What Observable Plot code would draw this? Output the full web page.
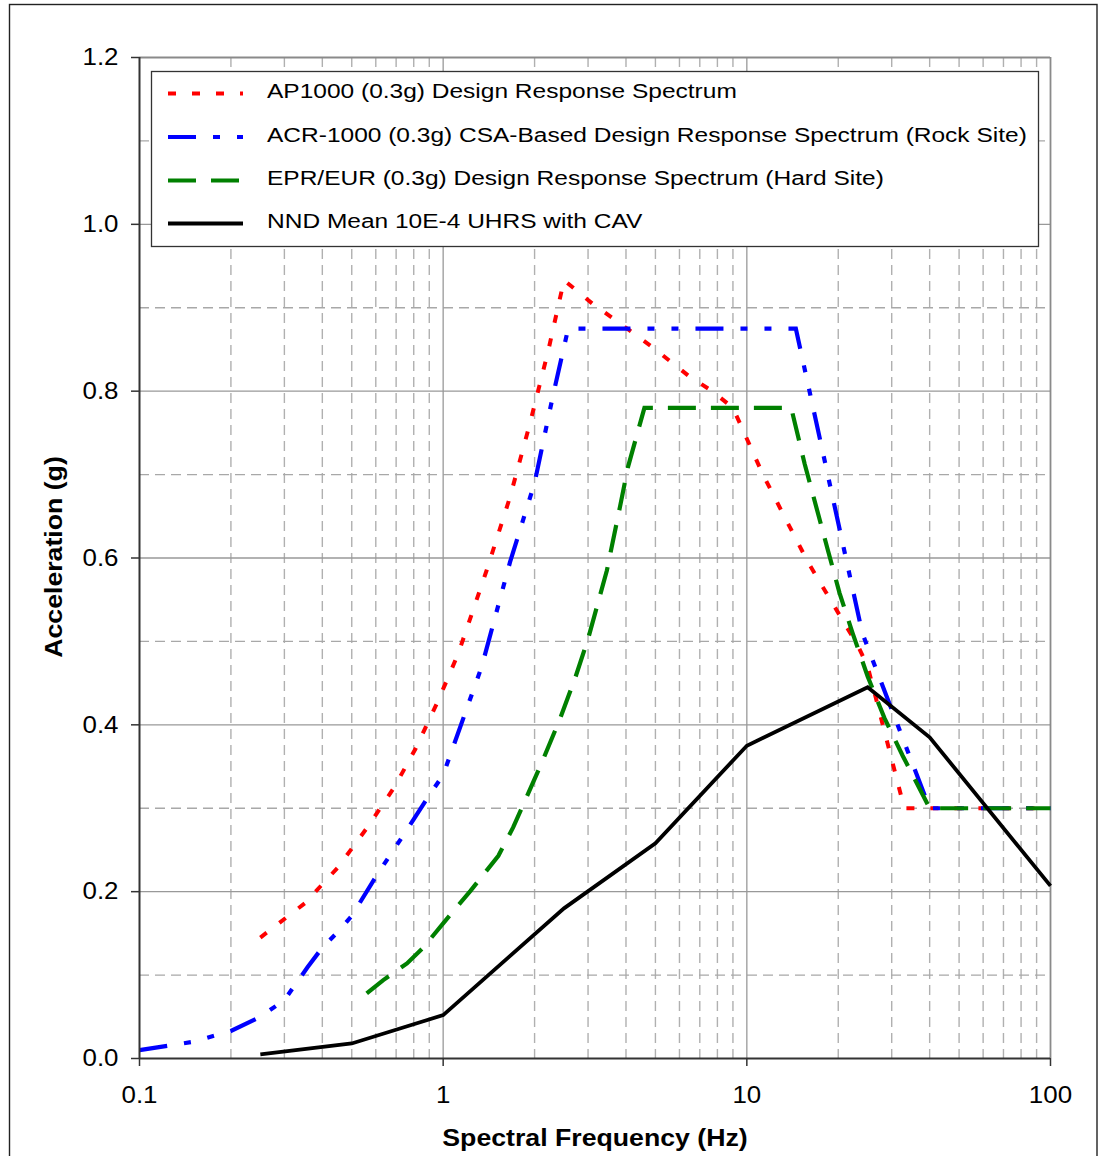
<!DOCTYPE html>
<html><head><meta charset="utf-8">
<script src="https://cdn.jsdelivr.net/npm/d3@7"></script>
<script src="https://cdn.jsdelivr.net/npm/@observablehq/plot@0.6"></script>
<style>
body{margin:0;background:#fff;}
#chart{width:1099px;height:1156px;overflow:hidden;}
svg text{font-family:"Liberation Sans",Arial,sans-serif;}
</style></head><body><div id="chart"></div>
<script>
// ---- data ----
const seriesNames = [
  "AP1000 (0.3g) Design Response Spectrum",
  "ACR-1000 (0.3g) CSA-Based Design Response Spectrum (Rock Site)",
  "EPR/EUR (0.3g) Design Response Spectrum (Hard Site)",
  "NND Mean 10E-4 UHRS with CAV"
];
const apFreq = [0.25,0.35,0.45,0.56,0.69,0.81,0.96,1.12,1.39,1.66,1.93,2.22,2.5,3.1,3.7,5.0,6.5,7.7,9.0,11.3,13.5,15.9,19.2,23.2,25,33,100];
const apAcc  = [0.145,0.186,0.229,0.276,0.325,0.371,0.428,0.485,0.585,0.673,0.761,0.849,0.933,0.905,0.885,0.85,0.817,0.80,0.78,0.70,0.645,0.595,0.545,0.495,0.47,0.30,0.30];
const acrFreq = [0.1,0.15,0.2,0.25,0.3,0.357,0.4,0.448,0.5,0.61,0.75,0.89,1.0,1.34,1.66,2.0,2.3,2.58,14.5,24,40,100];
const acrAcc  = [0.01,0.02,0.033,0.05,0.07,0.109,0.133,0.151,0.171,0.222,0.271,0.313,0.34,0.47,0.595,0.69,0.795,0.875,0.875,0.51,0.30,0.30];
const eurFreq = [0.56,0.635,0.76,0.86,1.0,1.23,1.52,1.7,1.86,2.12,2.43,2.72,3.0,3.46,3.82,4.06,4.6,14,15.5,18.5,20.2,22.3,25,28.4,32.6,40,100];
const eurAcc  = [0.078,0.094,0.114,0.133,0.162,0.201,0.243,0.277,0.309,0.356,0.408,0.456,0.503,0.585,0.661,0.709,0.78,0.78,0.713,0.609,0.558,0.51,0.458,0.408,0.363,0.30,0.30];
const nndFreq = [0.25,0.5,1,2.5,5,10,25,40,100];
const nndAcc  = [0.005,0.018,0.052,0.18,0.258,0.375,0.445,0.385,0.207];

const freqTicks = [0.1,1,10,100];
const freqTickLabels = ["0.1","1","10","100"];
const minorFreqs = [0.2,0.3,0.4,0.5,0.6,0.7,0.8,0.9,2,3,4,5,6,7,8,9,20,30,40,50,60,70,80,90];
const accTicks = [0,0.2,0.4,0.6,0.8,1.0,1.2];
const accTickLabels = ["0.0","0.2","0.4","0.6","0.8","1.0","1.2"];
const minorAcc = [0.1,0.3,0.5,0.7,0.9,1.1];
const xTitle = "Spectral Frequency (Hz)";
const yTitle = "Acceleration (g)";

// ---- styles ----
const styles = [
  {stroke:"#ff0000", strokeWidth:4, dash:"8,16"},
  {stroke:"#0000ff", strokeWidth:4.2, dash:"28,17,7,17,7,17"},
  {stroke:"#008000", strokeWidth:4.2, dash:"28,15"},
  {stroke:"#000000", strokeWidth:3.8, dash:null}
];
const toRows = (fs, as) => fs.map((f,i)=>({f, a: as[i]}));
const seriesRows = [toRows(apFreq,apAcc), toRows(acrFreq,acrAcc), toRows(eurFreq,eurAcc), toRows(nndFreq,nndAcc)];

const lineMarks = seriesRows.map((rows,i)=>Plot.line(rows,{
  x:"f", y:"a", stroke:styles[i].stroke, strokeWidth:styles[i].strokeWidth,
  strokeDasharray: styles[i].dash || undefined, strokeLinecap:"butt", strokeLinejoin:"miter", strokeMiterlimit:4
}));

const plot = Plot.plot({
  width:1099, height:1156,
  marginLeft:139, marginRight:49, marginTop:57, marginBottom:98,
  x:{type:"log", domain:[0.1,100]},
  y:{domain:[0,1.2]},
  style:{fontFamily:"Liberation Sans, Arial, sans-serif", fontSize:"24px", color:"#000", background:"#fff"},
  marks:[
    Plot.ruleX(minorFreqs,{stroke:"#b0b0b0", strokeWidth:1.4, strokeDasharray:"10,6"}),
    Plot.ruleY(minorAcc,{stroke:"#a8a8a8", strokeWidth:1.4, strokeDasharray:"10,6"}),
    Plot.ruleX([1,10],{stroke:"#a0a0a0", strokeWidth:1.4}),
    Plot.ruleY([0.2,0.4,0.6,0.8,1.0],{stroke:"#999999", strokeWidth:1.4}),
    Plot.ruleY([1.2],{stroke:"#8a8a8a", strokeWidth:1.8}),
    Plot.ruleX([100],{stroke:"#8a8a8a", strokeWidth:1.8}),
    ...lineMarks,
    Plot.ruleX([0.1],{stroke:"#333", strokeWidth:2}),
    Plot.ruleY([0],{stroke:"#333", strokeWidth:2}),
    Plot.axisX(freqTicks,{tickSize:8, tickPadding:19, tickFormat:d=>freqTickLabels[freqTicks.indexOf(d)], label:null, stroke:"#333", strokeWidth:1.5}),
    Plot.axisY(accTicks,{tickSize:8, tickPadding:13, tickFormat:d=>accTickLabels[accTicks.indexOf(d)], label:null, stroke:"#333", strokeWidth:1.5})
  ]
});
document.getElementById("chart").appendChild(plot);

const svg = d3.select(plot);
function stretch(sel, factor){
  sel.each(function(){
    const L = this.getComputedTextLength();
    this.setAttribute("textLength", (L*factor).toFixed(1));
    this.setAttribute("lengthAdjust","spacingAndGlyphs");
  });
}
stretch(svg.selectAll("g[aria-label='x-axis tick label'] text, g[aria-label='y-axis tick label'] text"), 1.08);

// outer frame
svg.append("rect").attr("x",9.5).attr("y",4.5).attr("width",1087.5).attr("height",1200)
  .attr("fill","none").attr("stroke","#222").attr("stroke-width",1.4);

// axis titles
const xt = svg.append("text").attr("x",595).attr("y",1146).attr("text-anchor","middle")
  .attr("font-weight","bold").attr("font-size",23).text(xTitle);
stretch(xt,1.16);
const yt = svg.append("text").attr("transform","translate(62,557) rotate(-90)").attr("text-anchor","middle")
  .attr("font-weight","bold").attr("font-size",23).text(yTitle);
stretch(yt,1.16);

// legend
const lg = svg.append("g").attr("text-anchor","start");
lg.append("rect").attr("x",151.5).attr("y",71.5).attr("width",887).attr("height",175)
  .attr("fill","#fff").attr("stroke","#333").attr("stroke-width",1.3);
const baselines = [98,141.5,185,228];
seriesNames.forEach((name,i)=>{
  const yl = baselines[i]-4.5;
  const ln = lg.append("line").attr("x1",168).attr("x2",243).attr("y1",yl).attr("y2",yl)
    .attr("stroke",styles[i].stroke).attr("stroke-width",styles[i].strokeWidth);
  if (styles[i].dash) ln.attr("stroke-dasharray",styles[i].dash);
  const t = lg.append("text").attr("x",267).attr("y",baselines[i]).attr("text-anchor","start")
    .attr("font-size",20).text(name);
  stretch(t,1.225);
});
</script></body></html>
